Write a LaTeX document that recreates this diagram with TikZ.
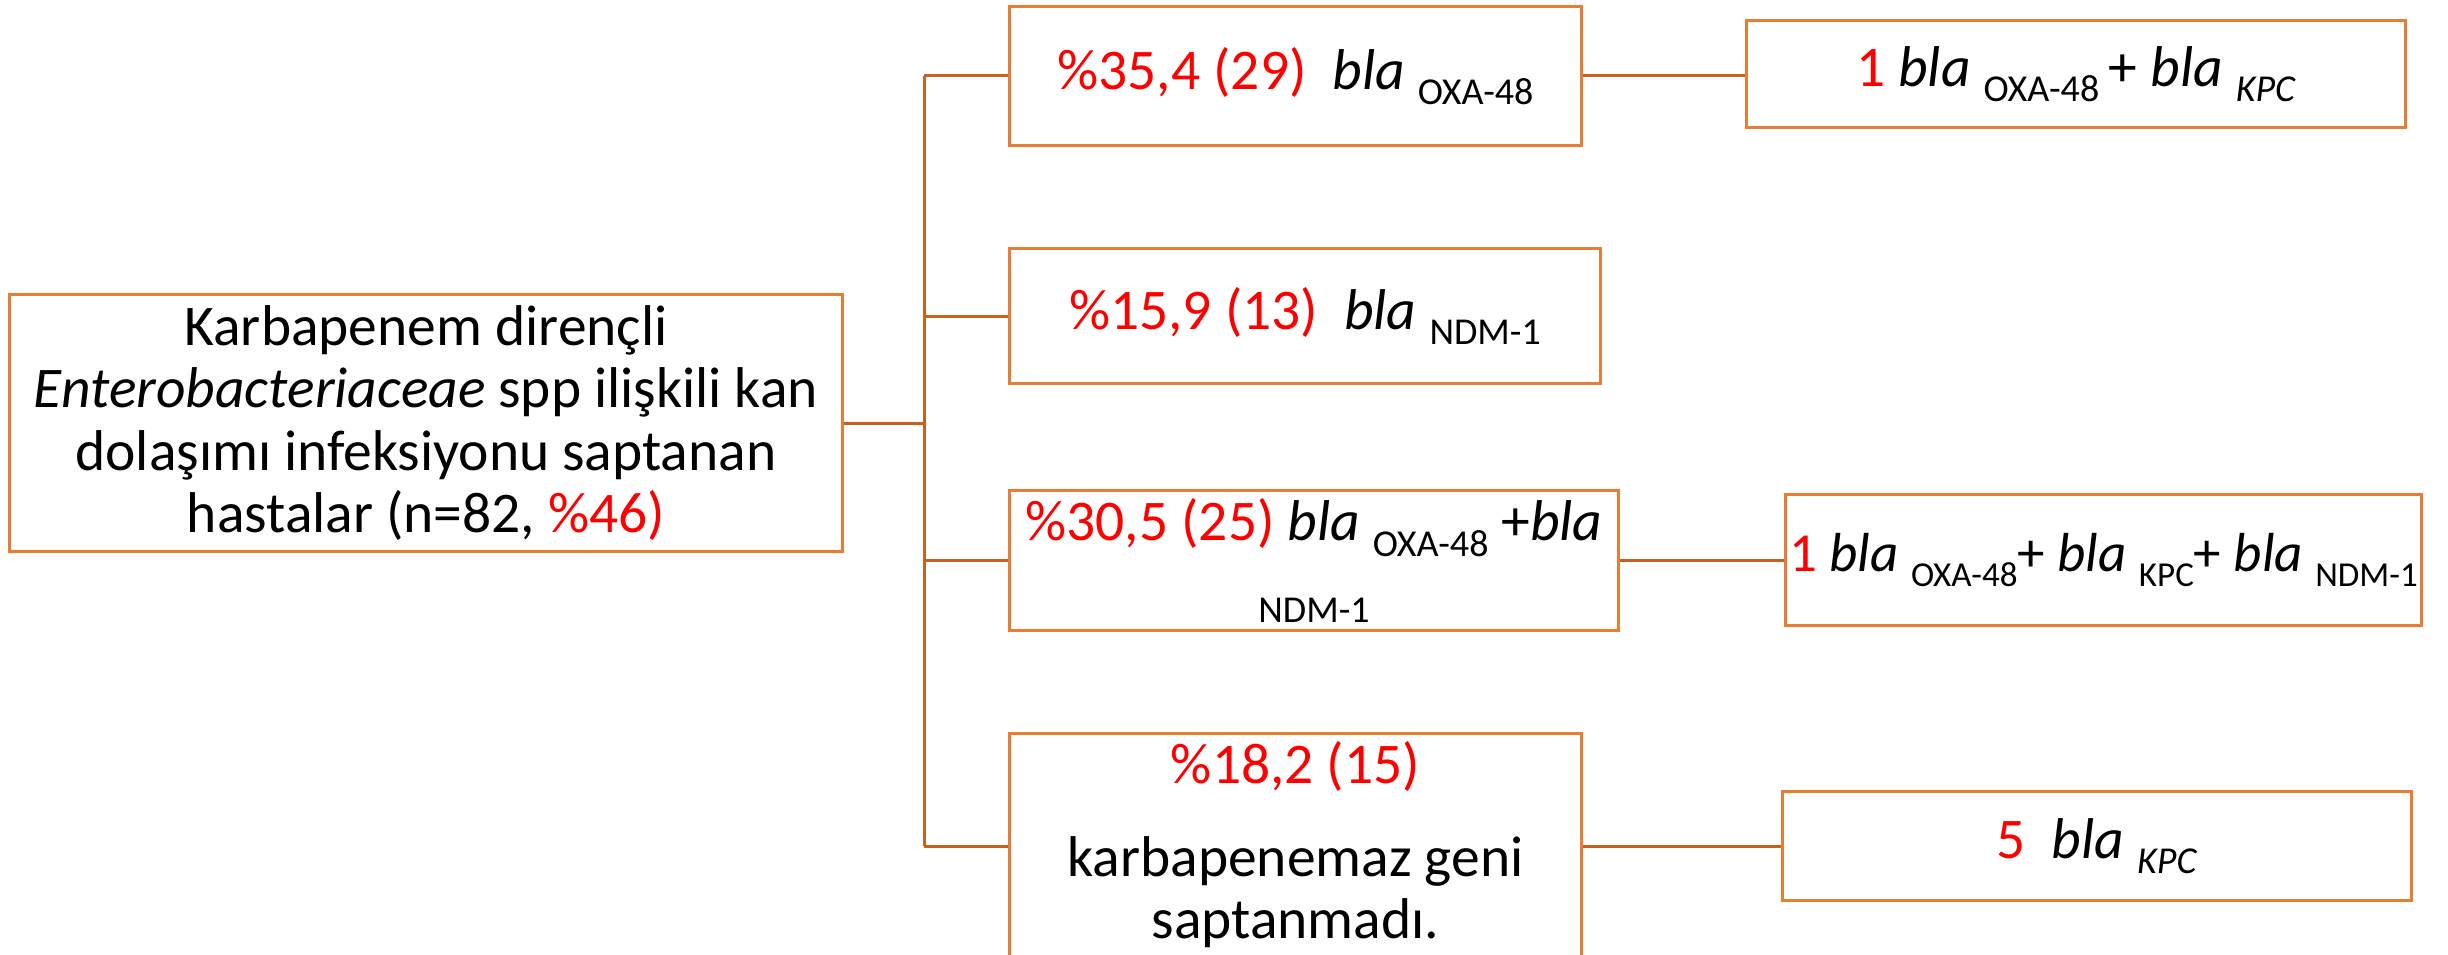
\documentclass[tikz,border=0pt]{standalone}
\usepackage{fontspec}
\setmainfont{Carlito}
\definecolor{boxorange}{RGB}{232,125,52}
\definecolor{connorange}{RGB}{200,96,30}
\definecolor{txtred}{RGB}{255,0,0}
\newcommand{\sbt}[1]{\raisebox{-0.27em}{\fontsize{38}{38}\selectfont #1}}
\newcommand{\sbtc}[1]{\raisebox{-0.27em}{\fontsize{35}{35}\selectfont #1}}
\newcommand{\bla}{\textit{bla}}
\newcommand{\rd}[1]{\textcolor{txtred}{#1}}
\begin{document}
\begin{tikzpicture}[x=1pt,y=-1pt,
  box/.style={draw=boxorange, line width=3pt, fill=white, inner sep=0pt,
    anchor=north west, align=center, font=\fontsize{57.5}{62.5}\selectfont},
  conn/.style={draw=connorange, line width=3pt}]
\useasboundingbox (0,0) rectangle (2448,955);
\fill[white] (0,0) rectangle (2448,955);

\node[box, minimum width=833pt, minimum height=257pt] (main) at (8,293)
  {Karbapenem dirençli\\ \textit{Enterobacteriaceae} spp ilişkili kan\\ dolaşımı infeksiyonu saptanan\\ hastalar (n=82, \rd{\%46)}};

\node[box, minimum width=572pt, minimum height=139pt] (A) at (1008,5)
  {\rd{\%35,4 (29)}\ \ \bla{} \sbt{OXA-48}};
\node[box, minimum width=591pt, minimum height=135pt] (B) at (1008,247)
  {\rd{\%15,9 (13)}\ \ \bla{} \sbt{NDM-1}};
\node[box, minimum width=609pt, minimum height=140pt] (C) at (1008,489)
  {\rd{\%30,5 (25)} \bla{} \sbt{OXA-48} +\bla\\[4pt] \sbt{NDM-1}};
\node[box, minimum width=572pt, minimum height=0pt] (D) at (1008,732)
  {\rule{0pt}{50pt}\rd{\%18,2 (15)}\\[30pt] karbapenemaz geni\\ saptanmadı.\rule[-70pt]{0pt}{0pt}};

\node[box, minimum width=659pt, minimum height=107pt] (A2) at (1745,19)
  {\rd{1} \bla{} \sbt{OXA-48}\,+ \bla{} \sbt{\textit{KPC}}};
\node[box, minimum width=636pt, minimum height=131pt, font=\fontsize{55}{60}\selectfont] (C2) at (1784,493)
  {\rd{1} \bla{} \sbtc{OXA-48}+ \bla{} \sbtc{KPC}+ \bla{} \sbtc{NDM-1}};
\node[box, minimum width=629pt, minimum height=109pt] (D2) at (1781,790)
  {\rd{5}\ \ \bla{} \sbt{\textit{KPC}}};

\coordinate (tr) at (924,0);
\coordinate (dIn) at (D.north west |- D2.west);
\draw[conn] (main.east) -- (main.east -| tr);
\draw[conn] (tr |- A.west) -- (tr |- dIn);
\draw[conn] (tr |- A.west) -- (A.west);
\draw[conn] (tr |- B.west) -- (B.west);
\draw[conn] (tr |- C.west) -- (C.west);
\draw[conn] (tr |- dIn) -- (dIn);
\draw[conn] (A.east) -- (A.east -| A2.west);
\draw[conn] (C.east) -- (C.east -| C2.west);
\draw[conn] (D.north east |- D2.west) -- (D2.west);
\end{tikzpicture}
\end{document}
